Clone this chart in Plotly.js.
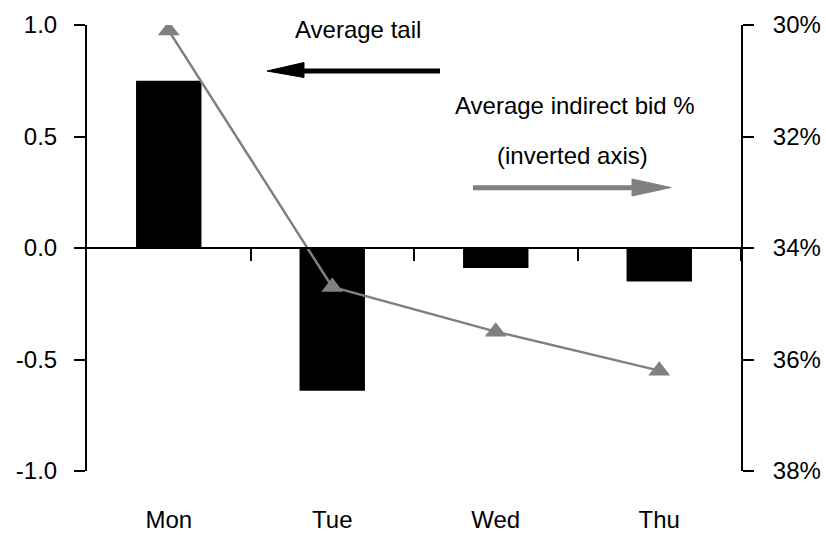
<!DOCTYPE html>
<html>
<head>
<meta charset="utf-8">
<script src="https://cdn.plot.ly/plotly-3.0.1.min.js"></script>
<style>
  html, body { margin: 0; padding: 0; background: #ffffff; }
  #chart { width: 826px; height: 535px; }
</style>
</head>
<body>
<div id="chart"></div>
<script>
// ---- data ----
const days = ['Mon', 'Tue', 'Wed', 'Thu'];
const avgTail = [0.75, -0.64, -0.09, -0.15];          // left axis
const avgIndirectBid = [30.1, 34.7, 35.5, 36.2];      // right axis (%), inverted
const leftTicks = [-1.0, -0.5, 0.0, 0.5, 1.0];
const leftTickText = ['-1.0', '-0.5', '0.0', '0.5', '1.0'];
const rightTicks = [30, 32, 34, 36, 38];
const rightTickText = ['30%', '32%', '34%', '36%', '38%'];

// ---- layout geometry ----
const W = 826, H = 535;
const M = { l: 87, r: 85, t: 25, b: 64 };
const PW = W - M.l - M.r, PH = H - M.t - M.b;
const px = x => (x - M.l) / PW;
const py = y => (H - M.b - y) / PH;

const FONT = 'Liberation Sans, Arial, sans-serif';
const FS = 24;
const GREY = '#808080';
const idx = days.map((d, i) => i);

const traces = [
  {
    type: 'bar',
    x: idx,
    y: avgTail,
    width: 0.4,
    marker: { color: '#000000', line: { width: 0 } },
    xaxis: 'x',
    yaxis: 'y',
    hoverinfo: 'skip'
  },
  {
    type: 'scatter',
    mode: 'lines+markers',
    x: idx,
    y: avgIndirectBid,
    line: { color: GREY, width: 2.5 },
    marker: { symbol: 'triangle-up', size: 19, color: GREY },
    xaxis: 'x2',
    yaxis: 'y2',
    hoverinfo: 'skip'
  }
];

const layout = {
  width: W, height: H,
  margin: M,
  paper_bgcolor: '#ffffff',
  plot_bgcolor: '#ffffff',
  showlegend: false,
  font: { family: FONT, size: FS, color: '#000000' },
  xaxis: {
    type: 'linear',
    range: [-0.5, 3.5],
    anchor: 'free',
    position: 0.5,
    showgrid: false,
    zeroline: false,
    showline: true, linecolor: '#000000', linewidth: 2,
    tickmode: 'array',
    tickvals: [0.5, 1.5, 2.5, 3.5],
    ticks: 'outside', ticklen: 12, tickwidth: 2, tickcolor: '#000000',
    showticklabels: false,
    fixedrange: true
  },
  xaxis2: {
    type: 'linear',
    overlaying: 'x',
    anchor: 'y',
    side: 'bottom',
    range: [-0.5, 3.5],
    showgrid: false, zeroline: false, showline: false,
    tickmode: 'array',
    tickvals: idx,
    ticktext: days,
    ticks: '',
    ticklabelstandoff: 32,
    tickfont: { family: FONT, size: FS, color: '#000000' }
  },
  yaxis: {
    range: [-1, 1],
    tickmode: 'array',
    tickvals: leftTicks,
    ticktext: leftTickText,
    showgrid: false,
    zeroline: false,
    showline: true, linecolor: '#000000', linewidth: 2,
    ticks: 'outside', ticklen: 11, tickwidth: 2, tickcolor: '#000000',
    ticklabelstandoff: 12,
    tickfont: { family: FONT, size: FS, color: '#000000' }
  },
  yaxis2: {
    overlaying: 'y',
    side: 'right',
    anchor: 'x2',
    range: [38, 30],
    tickmode: 'array',
    tickvals: rightTicks,
    ticktext: rightTickText,
    showgrid: false,
    zeroline: false,
    showline: true, linecolor: '#000000', linewidth: 2,
    ticks: 'outside', ticklen: 11, tickwidth: 2, tickcolor: '#000000',
    ticklabelstandoff: 14,
    tickfont: { family: FONT, size: FS, color: '#000000' }
  },
  annotations: [
    { text: 'Average tail', xref: 'paper', yref: 'paper', x: px(358), y: py(29),
      xanchor: 'center', yanchor: 'middle', showarrow: false,
      font: { family: FONT, size: FS, color: '#000000' } },
    { text: 'Average indirect bid %', xref: 'paper', yref: 'paper', x: px(575), y: py(106),
      xanchor: 'center', yanchor: 'middle', showarrow: false,
      font: { family: FONT, size: FS, color: '#000000' } },
    { text: '(inverted axis)', xref: 'paper', yref: 'paper', x: px(572), y: py(156),
      xanchor: 'center', yanchor: 'middle', showarrow: false,
      font: { family: FONT, size: FS, color: '#000000' } }
  ],
  shapes: [
    // black arrow (pointing left)
    { type: 'line', xref: 'paper', yref: 'paper', x0: px(300), y0: py(71), x1: px(440), y1: py(71),
      line: { color: '#000000', width: 5 } },
    { type: 'path', xref: 'paper', yref: 'paper',
      path: `M ${px(267)} ${py(71)} L ${px(304)} ${py(62.5)} L ${px(304)} ${py(77.5)} Z`,
      fillcolor: '#000000', line: { color: '#000000', width: 1 } },
    // grey arrow (pointing right)
    { type: 'line', xref: 'paper', yref: 'paper', x0: px(473), y0: py(187.7), x1: px(636), y1: py(187.7),
      line: { color: GREY, width: 5 } },
    { type: 'path', xref: 'paper', yref: 'paper',
      path: `M ${px(671)} ${py(187.5)} L ${px(632)} ${py(179)} L ${px(632)} ${py(196)} Z`,
      fillcolor: GREY, line: { color: GREY, width: 1 } }
  ]
};

Plotly.newPlot('chart', traces, layout, { staticPlot: true, displayModeBar: false });
</script>
</body>
</html>
